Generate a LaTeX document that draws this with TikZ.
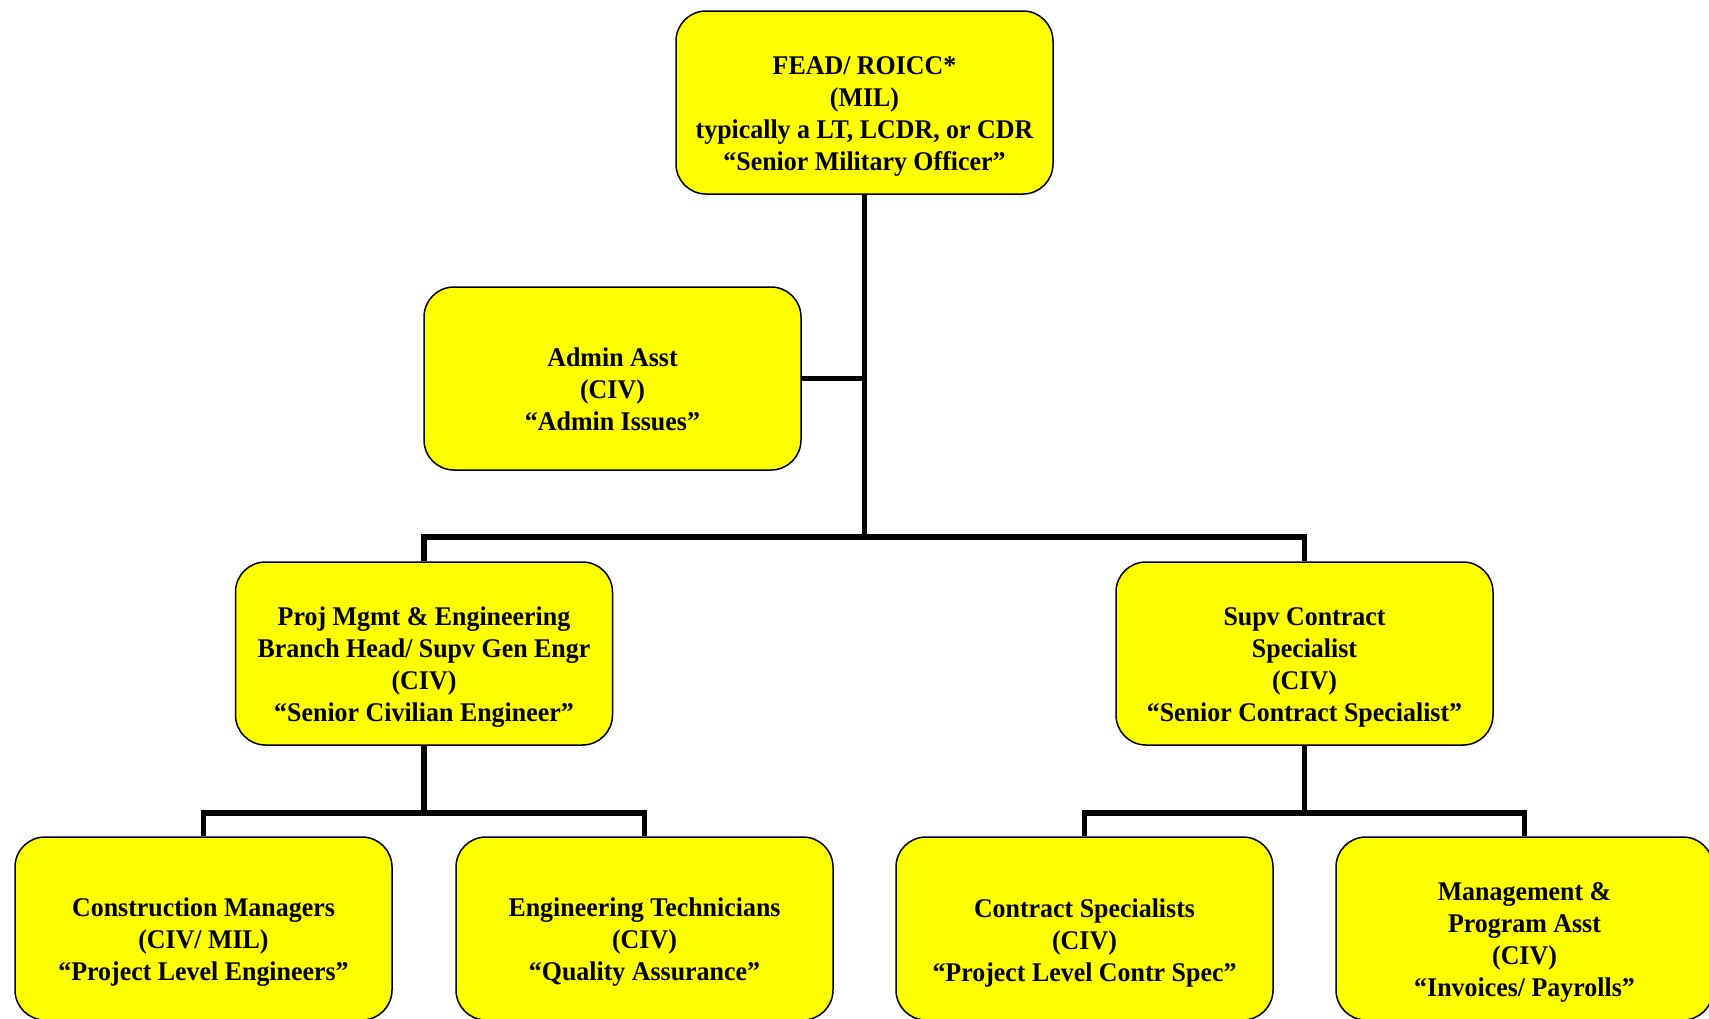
\documentclass[tikz,border=0pt]{standalone}
\usepackage{fontspec}
\setmainfont{Liberation Serif}[FakeStretch=0.96]
\definecolor{boxyellow}{RGB}{255,255,0}
\begin{document}
\begin{tikzpicture}[x=0.5pt,y=-0.5pt,
  box/.style={draw=black, line width=0.75pt, fill=boxyellow, rounded corners=15pt,
    minimum width=188.5pt, minimum height=91.5pt, inner sep=0pt},
  boxtext/.style={align=center, yshift=-7pt, inner sep=0pt,
    font=\bfseries\fontsize{13.5}{16}\selectfont},
  link/.style={line width=2.75pt, line join=miter}]
\clip (0,0) rectangle (1709,1018);
\useasboundingbox (0,0) rectangle (1709,1018);
\node[box, label={[boxtext]center:{FEAD/ ROICC*\\(MIL)\\typically a LT, LCDR, or CDR\\``Senior Military Officer''}}] (top) at (864.5,102.5) {};
\node[box, label={[boxtext, yshift=1.7pt]center:{Admin Asst\\(CIV)\\``Admin Issues''}}] (admin) at (612.5,378.5) {};
\node[box, label={[boxtext]center:{Proj Mgmt \& Engineering\\Branch Head/ Supv Gen Engr\\(CIV)\\``Senior Civilian Engineer''}}] (pm) at (424,653.5) {};
\node[box, label={[boxtext]center:{Supv Contract\\Specialist\\(CIV)\\``Senior Contract Specialist''}}] (supv) at (1304.5,653.5) {};
\node[box, label={[boxtext]center:{Construction Managers\\(CIV/ MIL)\\``Project Level Engineers''}}] (cm) at (203.5,928.5) {};
\node[box, label={[boxtext]center:{Engineering Technicians\\(CIV)\\``Quality Assurance''}}] (et) at (644.5,928.5) {};
\node[box, label={[boxtext]center:{Contract Specialists\\(CIV)\\``Project Level Contr Spec''}}] (cs) at (1084.5,928.5) {};
\node[box, label={[boxtext]center:{Management \&\\Program Asst\\(CIV)\\``Invoices/ Payrolls''}}] (mpa) at (1524.5,928.5) {};
\coordinate (bus1) at (864.5,537);
\coordinate (bus2) at (424,813);
\coordinate (bus3) at (1304.5,813);
\draw[link] (top.south) -- (bus1);
\draw[link] (admin.east) -- (admin.east -| top.south);
\draw[link] (pm.north) |- (bus1) -| (supv.north);
\draw[link] (pm.south) -- (bus2);
\draw[link] (cm.north) |- (bus2) -| (et.north);
\draw[link] (supv.south) -- (bus3);
\draw[link] (cs.north) |- (bus3) -| (mpa.north);
\end{tikzpicture}
\end{document}
